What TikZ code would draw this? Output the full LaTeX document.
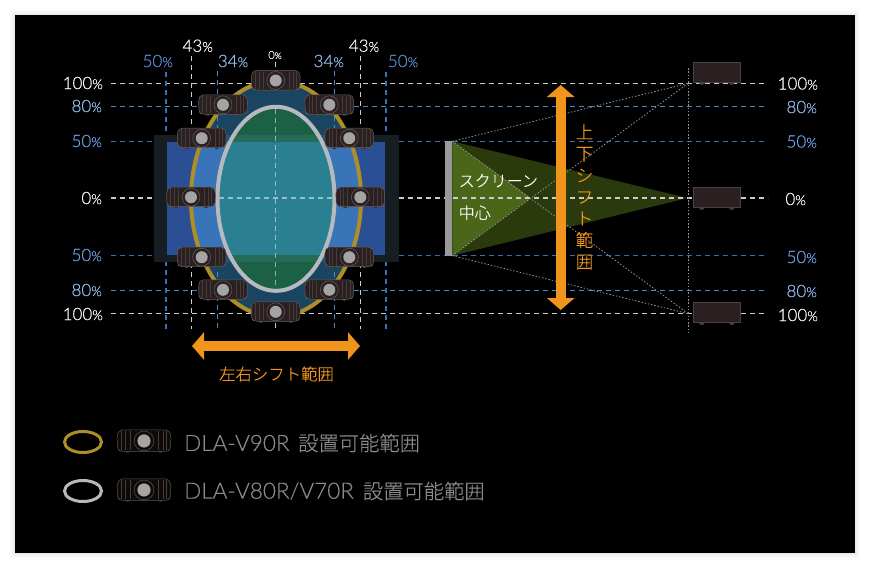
\documentclass[tikz,border=0pt]{standalone}
\usepackage{fontspec}
\setmainfont{Lato Light}[FakeBold=0.25]
\newfontfamily\cjk{Noto Sans CJK JP Light}[FakeBold=0.25]
\usetikzlibrary{arrows.meta}
\definecolor{cWhite}{HTML}{FFFFFF}
\definecolor{cLB}{HTML}{94C0F0}
\definecolor{cMB}{HTML}{6CA2E6}
\definecolor{cDB}{HTML}{5C8ED4}
\definecolor{lnWhite}{HTML}{CCCCCC}
\definecolor{lnLB}{HTML}{5088C4}
\definecolor{lnMB}{HTML}{3A70B8}
\definecolor{rectDark}{HTML}{161E24}
\definecolor{rectBlue}{HTML}{2B4F94}
\definecolor{goldLine}{HTML}{AE8E26}
\definecolor{goldIn}{HTML}{3A74B8}
\definecolor{goldOut}{HTML}{1A4560}
\definecolor{goldBand}{HTML}{1E5578}
\definecolor{silverLine}{HTML}{B6BABE}
\definecolor{silverIn}{HTML}{2A8090}
\definecolor{silverOut}{HTML}{1C6045}
\definecolor{silverBand}{HTML}{256B57}
\definecolor{orangeC}{HTML}{F0941C}
\definecolor{triDark}{HTML}{2A3A0C}
\definecolor{triLight}{HTML}{4A6618}
\definecolor{legendTxt}{HTML}{8A8A8A}
\definecolor{pjfill}{HTML}{2A2022}
\definecolor{pjline}{HTML}{6A5E5A}
\definecolor{pjvent}{HTML}{463C3A}
\definecolor{lensC}{HTML}{A4A4A4}
\newcommand\pct[1]{#1{\fontsize{13.5}{13.5}\selectfont\%}}
\newcommand\pctS[1]{{\fontsize{11}{11}\selectfont #1{\fontsize{9}{9}\selectfont\%}}}
\tikzset{
  lab/.style={inner sep=0pt,font=\fontsize{17}{17}\selectfont},
  dashln/.style={line width=1.1pt,dash pattern=on 5pt off 4pt},
  dotline/.style={line width=.8pt,dash pattern=on 1.5pt off 1.8pt,draw=gray!85},
  bigarrow/.style={draw=orangeC,line width=10pt,{Triangle[width=27pt,length=12pt]}-{Triangle[width=27pt,length=12pt]}},
  jp/.style={inner sep=0pt,font=\cjk\fontsize{16}{16}\selectfont},
  legendtxt/.style={inner sep=0pt,anchor=west,text=legendTxt,font=\fontsize{22.5}{22}\selectfont},
  pics/frontproj/.style={code={
    \fill[pjfill!70!pjline] (-15,8.5) circle[radius=2.2] (15,8.5) circle[radius=2.2];
    \draw[fill=pjfill,draw=pjline,line width=.5pt,rounded corners=2pt]
      (-22,-10.5) -- (22,-10.5) -- (24.5,-6) -- (24,7) -- (21,9) -- (-21,9) -- (-24,7) -- (-24.5,-6) -- cycle;
    \foreach \vx in {13,17,20.5}{
      \draw[pjvent,line width=.35pt] (\vx,-9.5) -- (\vx,8);
      \draw[pjvent,line width=.35pt] (-\vx,-9.5) -- (-\vx,8);}
    \draw[pjline,line width=.5pt] (0,-.5) circle[radius=9];
    \fill[lensC] (0,-.5) circle[radius=6];
  }},
  pics/sideproj/.style={code={
    \fill[pjline] (-15,9.6) circle[radius=3] (15,9.6) circle[radius=3];
    \draw[fill=pjfill,draw=pjline,line width=.5pt] (-23.5,-10) -- (23.5,-10) -- (23.5,10.2) -- (-23.5,10.2) -- cycle;
  }},
}
\begin{document}
\begin{tikzpicture}[x=1pt,y=-1pt]
\useasboundingbox (0,0) rectangle (870,565);
% card
\fill[white] (0,0) rectangle (870,565);
\foreach \sh/\op in {5/2,4/3,3/4,2/6,1/8}{
  \fill[black!\op] (15-\sh,15-\sh) rectangle (855+\sh,553+\sh);}
\fill[black] (15,15) rectangle (855,553);
% light beams
\coordinate (scrT) at (452.3,141.3);
\coordinate (scrB) at (452.3,255.7);
\coordinate (apex) at (687.5,198);
\coordinate (cross) at (530.7,198);
\coordinate (pjT) at (688.3,83.3);
\coordinate (pjB) at (688.3,313.7);
\coordinate (pjLineT) at (688.3,68);
\coordinate (pjLineB) at (688.3,333);
\fill[triDark] (scrT) -- (apex) -- (scrB) -- cycle;
\fill[triLight] (scrT) -- (cross) -- (scrB) -- cycle;
% horizontal dashed lines
\foreach \yy/\cc in {83.3/lnWhite,106.7/lnLB,141.3/lnMB,198/lnWhite,255.7/lnMB,290.3/lnLB,313.7/lnWhite}{
  \coordinate (hA) at (111,\yy); \coordinate (hB) at (768,\yy);
  \draw[dashln,draw=\cc] (hA) -- (hB);}
% vertical dashed lines
\foreach \xx/\ys/\cc in {166/71.7/lnMB,191.3/56/lnWhite,217.3/70.7/lnLB,275.7/62/lnWhite,334.7/70.7/lnLB,360.7/56/lnWhite,386/71.7/lnMB}{
  \coordinate (vA) at (\xx,\ys); \coordinate (vB) at (\xx,329);
  \draw[dashln,draw=\cc] (vA) -- (vB);}
% projection lines
\draw[dotline] (scrT) -- (pjT);
\draw[dotline] (scrB) -- (pjB);
\draw[dotline] (scrT) -- (pjB);
\draw[dotline] (scrB) -- (pjT);
\draw[dotline] (pjLineT) -- (pjLineB);
% screen
\fill[black!40!white] (444.7,141) rectangle (452.3,256);
% left rectangles
\fill[rectDark] (154,134.7) rectangle (399,262.3);
\fill[rectBlue] (167.3,142.3) rectangle (385.3,254.7);
% gold ellipse
\begin{scope}
  \clip (276,198.8) ellipse[x radius=85,y radius=118];
  \fill[goldOut] (180,70) rectangle (370,330);
  \fill[goldBand] (180,134.7) rectangle (370,262.3);
  \fill[goldIn] (180,142.3) rectangle (370,254.7);
  \foreach \xx in {217.3,334.7}{
    \draw[dashln,draw=lnLB] (\xx,70.7) -- (\xx,134);
    \draw[dashln,draw=lnLB] (\xx,263) -- (\xx,329);}
\end{scope}
\draw[goldLine,line width=4pt] (276,198.8) ellipse[x radius=85,y radius=118];
% silver ellipse
\begin{scope}
  \clip (276,198.8) ellipse[x radius=58.5,y radius=92];
  \fill[silverOut] (210,100) rectangle (340,300);
  \fill[silverBand] (210,134.7) rectangle (340,262.3);
  \fill[silverIn] (210,142.3) rectangle (340,254.7);
  \draw[dashln,draw=white,opacity=.5] (210,198) -- (340,198);
  \draw[dashln,draw=white,opacity=.5] (275.7,100) -- (275.7,300);
\end{scope}
\draw[silverLine,line width=4pt] (276,198.8) ellipse[x radius=58.5,y radius=92];
% projectors, front view
\foreach \px/\py [count=\n] in {275.7/81,223/105.3,329.3/105.3,201.7/138.7,349.3/138.7,191/197.7,360.3/197.7,201.7/257.7,349.3/257.7,223/290.3,329.3/290.3,275.7/312.3}{
  \pic (fp\n) at (\px,\py) {frontproj};}
% projectors, side view
\definecolor{pjline}{HTML}{4A4040}
\pic (sp1) at (716.8,72.3) {sideproj};
\pic (sp2) at (716.8,197.3) {sideproj};
\pic (sp3) at (716.8,312.5) {sideproj};
% orange arrows
\coordinate (arL) at (192,346);
\coordinate (arR) at (360,346);
\coordinate (arT) at (560.7,85);
\coordinate (arB) at (560.7,310);
\draw[bigarrow] (arL) -- (arR);
\draw[bigarrow] (arT) -- (arB);
\node[jp,text=orangeC,font=\cjk\fontsize{16.4}{16.4}\selectfont] (hshift) at (276.5,374) {左右シフト範囲};
\node[inner sep=0pt,align=center,text=orangeC,font=\cjk\fontsize{17.5}{21.6}\selectfont] (vshift) at (584.5,197) {上\\下\\シ\\フ\\ト\\範\\囲};
\node[jp,anchor=west,text=white] (sc1) at (458.5,180.7) {スクリーン};
\node[jp,anchor=west,text=white] (sc2) at (458.5,212.7) {中心};
% percent labels, left
\node[lab,anchor=east,text=cWhite] (l1) at (103,83) {\pct{100}};
\node[lab,anchor=east,text=cLB] (l2) at (102,106) {\pct{80}};
\node[lab,anchor=east,text=cMB] (l3) at (102,141) {\pct{50}};
\node[lab,anchor=east,text=cWhite] (l4) at (102,198) {\pct{0}};
\node[lab,anchor=east,text=cMB] (l5) at (102,255) {\pct{50}};
\node[lab,anchor=east,text=cLB] (l6) at (102,290) {\pct{80}};
\node[lab,anchor=east,text=cWhite] (l7) at (103,314) {\pct{100}};
% percent labels, right
\node[lab,anchor=east,text=cWhite] (r1) at (818,83.5) {\pct{100}};
\node[lab,anchor=east,text=cLB] (r2) at (817,107) {\pct{80}};
\node[lab,anchor=east,text=cMB] (r3) at (817,141.5) {\pct{50}};
\node[lab,anchor=east,text=cWhite] (r4) at (806,199) {\pct{0}};
\node[lab,anchor=east,text=cMB] (r5) at (817,257) {\pct{50}};
\node[lab,anchor=east,text=cLB] (r6) at (817,291) {\pct{80}};
\node[lab,anchor=east,text=cWhite] (r7) at (818,315) {\pct{100}};
% percent labels, top
\node[lab,text=cDB] (t1) at (157.7,61) {\pct{50}};
\node[lab,text=cWhite] (t2) at (197.7,45.7) {\pct{43}};
\node[lab,text=cLB] (t3) at (233,61) {\pct{34}};
\node[lab,text=cWhite] (t4) at (275,55) {\pctS{0}};
\node[lab,text=cLB] (t5) at (328.7,61) {\pct{34}};
\node[lab,text=cWhite] (t6) at (364,45.7) {\pct{43}};
\node[lab,text=cDB] (t7) at (403,61) {\pct{50}};
% legend
\draw[goldLine,line width=3pt] (83,442) ellipse[x radius=18.5,y radius=10.5];
\draw[silverLine,line width=3pt] (83,491) ellipse[x radius=18.5,y radius=10.5];
\definecolor{pjfill}{HTML}{0E0A0A}
\definecolor{pjline}{HTML}{5E5450}
\pic[scale=1.1] (lp1) at (144,441.5) {frontproj};
\pic[scale=1.1] (lp2) at (144,490.5) {frontproj};
\node[legendtxt] (lg1) at (184,443) {DLA-V90R};
\node[legendtxt,font=\cjk\fontsize{20.3}{20}\selectfont] (lg1j) at (298,443) {設置可能範囲};
\node[legendtxt] (lg2) at (184,491) {DLA-V80R/V70R};
\node[legendtxt,font=\cjk\fontsize{20.3}{20}\selectfont] (lg2j) at (362.7,491) {設置可能範囲};
\end{tikzpicture}
\end{document}
